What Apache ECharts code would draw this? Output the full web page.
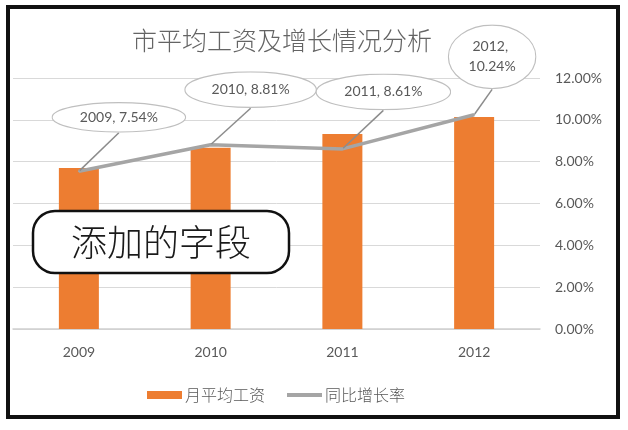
<!DOCTYPE html>
<html>
<head>
<meta charset="utf-8">
<script src="https://cdn.jsdelivr.net/npm/echarts@6/dist/echarts.min.js"></script>
<style>
  html, body { margin: 0; padding: 0; background: #fff; }
  #chart { width: 628px; height: 430px; }
</style>
</head>
<body>
<div id="chart"></div>
<script>
// ---- data ----
const categories = ['2009', '2010', '2011', '2012'];
const avgWage = [3850, 4330, 4660, 5070];          // 月平均工资 (left axis hidden, estimated)
const growthRate = [7.54, 8.81, 8.61, 10.24];      // 同比增长率 (%)
const rateTicks = { min: 0, max: 12, interval: 2 };
const seriesNames = ['月平均工资', '同比增长率'];
const titleText = '市平均工资及增长情况分析';
const noteText = '添加的字段';

// ---- callout layout (style, not data) ----
const callouts = [
  { w: 135, h: 31, dx: 40, dy: -54 },
  { w: 133, h: 37, dx: 40, dy: -55 },
  { w: 136, h: 37, dx: 41, dy: -57 },
  { w: 89, h: 65, dx: 18, dy: -58, textWidth: 60 }
];

function ellipseImage(w, h) {
  const svg = "<svg xmlns='http://www.w3.org/2000/svg' width='" + w + "' height='" + h + "'>" +
    "<ellipse cx='" + (w / 2) + "' cy='" + (h / 2) + "' rx='" + (w / 2 - 0.75) + "' ry='" + (h / 2 - 0.75) +
    "' fill='white' stroke='#bfbfbf' stroke-width='1.2'/></svg>";
  return 'data:image/svg+xml;charset=utf-8,' + encodeURIComponent(svg);
}

const FONT = 'Lato, "Noto Sans CJK SC", sans-serif';
const TXT = '#595959';

const lineData = growthRate.map(function (v, i) {
  const c = callouts[i];
  const lines = c.textWidth ? 2 : 1;
  const lh = c.textWidth ? 20 : 17;
  const tw = c.textWidth || c.w;
  const ph = (c.w - tw) / 2;
  const pv = (c.h - lines * lh) / 2;
  return {
    value: v,
    label: {
      width: tw,
      lineHeight: lh,
      overflow: 'break',
      padding: [pv, ph, pv, ph],
      backgroundColor: { image: ellipseImage(c.w, c.h) }
    }
  };
});

const chart = echarts.init(document.getElementById('chart'), null, { renderer: 'canvas' });

chart.setOption({
  animation: false,
  backgroundColor: '#fff',
  title: {
    text: titleText,
    left: 277,
    textAlign: 'center',
    top: 23,
    textStyle: { fontSize: 25, fontWeight: 300, color: '#646464', fontFamily: '"Noto Sans CJK SC", sans-serif' }
  },
  legend: {
    data: [
      { name: seriesNames[0], icon: 'rect' },
      { name: seriesNames[1], icon: 'path://M0,0 L35,0 L35,4 L0,4 Z', itemStyle: { color: '#a5a5a5' } }
    ],
    left: 142,
    top: 382,
    itemWidth: 35,
    itemHeight: 8,
    itemGap: 22,
    textStyle: { fontSize: 16, color: TXT, fontWeight: 300, fontFamily: '"Noto Sans CJK SC", sans-serif', padding: [0, 0, 0, -2] }
  },
  grid: { left: 13, right: 88, top: 78, bottom: 101, containLabel: false },
  xAxis: {
    type: 'category',
    data: categories,
    axisLine: { show: true, lineStyle: { color: '#d0d0d0', width: 1.5 } },
    axisTick: { show: false },
    axisLabel: { color: TXT, fontSize: 14, margin: 16, fontFamily: FONT }
  },
  yAxis: [
    { type: 'value', min: 0, max: 6000, show: false, splitLine: { show: false } },
    {
      type: 'value',
      position: 'right',
      min: rateTicks.min, max: rateTicks.max, interval: rateTicks.interval,
      axisLine: { show: false },
      axisTick: { show: false },
      axisLabel: {
        color: TXT, fontSize: 14, margin: 15, fontFamily: FONT,
        formatter: function (v) { return v.toFixed(2) + '%'; }
      },
      splitLine: { show: true, lineStyle: { color: '#d9d9d9', width: 1 } }
    }
  ],
  series: [
    {
      name: seriesNames[0],
      type: 'bar',
      yAxisIndex: 0,
      data: avgWage,
      barWidth: 40,
      itemStyle: { color: '#ed7d31' },
      emphasis: { disabled: true }
    },
    {
      name: seriesNames[1],
      type: 'line',
      yAxisIndex: 1,
      data: lineData,
      symbol: 'circle',
      symbolSize: 2,
      showSymbol: true,
      itemStyle: { color: '#a5a5a5' },
      lineStyle: { color: '#a5a5a5', width: 3.5 },
      z: 3,
      emphasis: { disabled: true },
      label: {
        show: true,
        position: 'inside',
        formatter: function (p) { return p.name + ', ' + p.value.toFixed(2) + '%'; },
        color: TXT,
        fontSize: 14,
        fontFamily: FONT,
        align: 'center',
        verticalAlign: 'middle'
      },
      labelLine: { show: true, lineStyle: { color: '#8c8c8c', width: 1.5 } },
      labelLayout: function (params) {
        const c = callouts[params.dataIndex];
        return { dx: c.dx, dy: c.dy };
      }
    }
  ],
  graphic: [
    {
      type: 'rect', z: 100,
      shape: { x: 33, y: 211, width: 256, height: 62, r: 22 },
      style: { fill: '#fff', stroke: '#111', lineWidth: 2.5 }
    },
    {
      type: 'text', z: 101, x: 161, y: 242,
      style: {
        text: noteText, fontSize: 36, fill: '#1a1a1a', align: 'center', verticalAlign: 'middle',
        fontWeight: 300,
        fontFamily: '"Noto Sans CJK SC", sans-serif'
      }
    },
    {
      type: 'rect', z: 102,
      shape: { x: 8, y: 7, width: 610, height: 410 },
      style: { fill: 'none', stroke: '#111', lineWidth: 4 }
    }
  ]
});
</script>
</body>
</html>
